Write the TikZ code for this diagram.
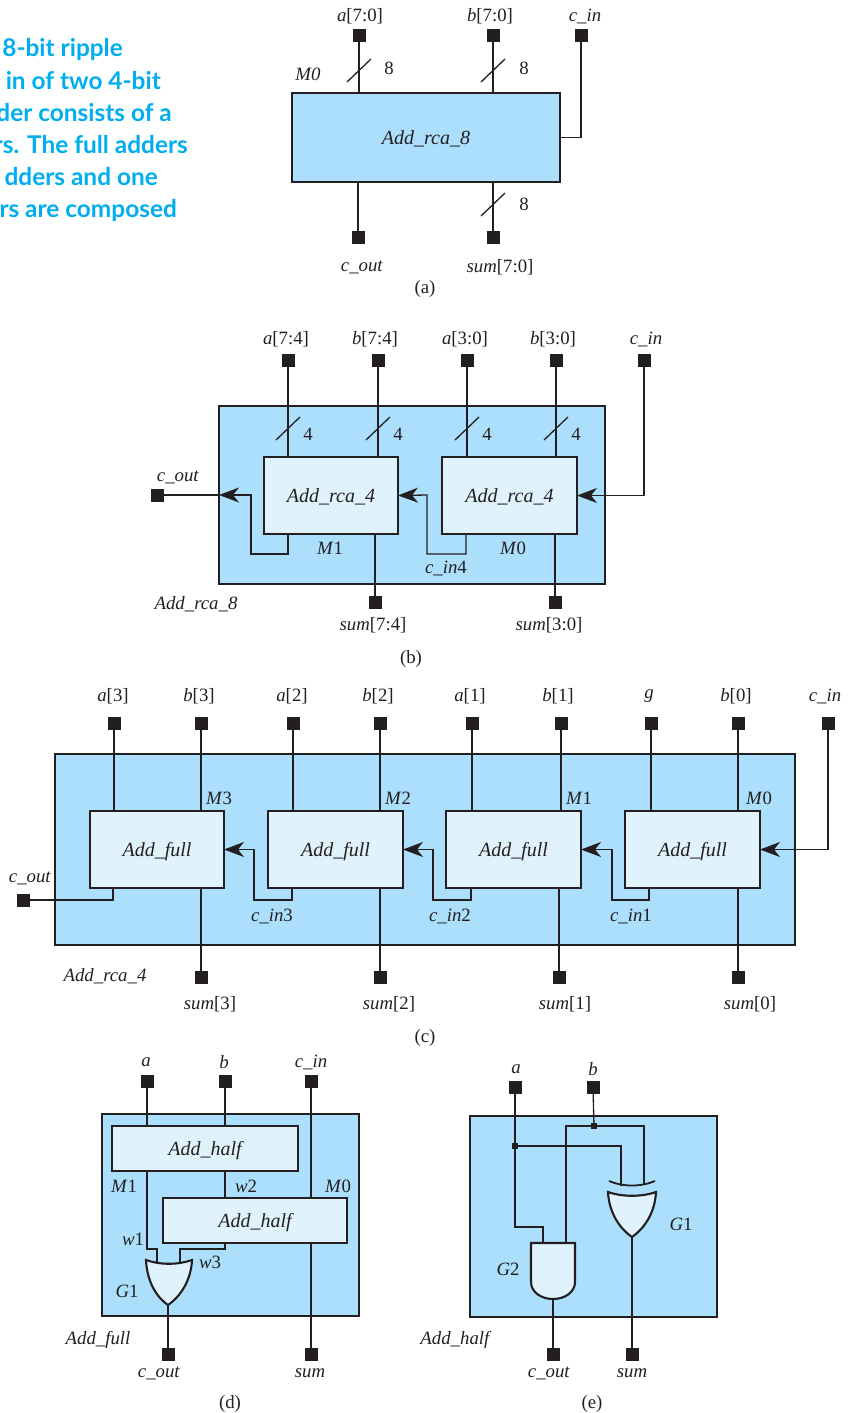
\documentclass[tikz,border=0pt]{standalone}
\usepackage{fontspec}
\setmainfont{Liberation Serif}
\newfontfamily\capfont{Lato}
\usetikzlibrary{arrows.meta,calc}
\definecolor{panelblue}{HTML}{ABDFFB}
\definecolor{blockblue}{HTML}{E0F3FC}
\definecolor{ink}{HTML}{231F20}
\definecolor{capblue}{HTML}{00AEEF}
\tikzset{
  wire/.style={draw=ink,line width=1.3pt},
  arrowwire/.style={wire,-{Stealth[length=20pt,width=15pt,inset=6pt]}},
  panel/.style={draw=ink,line width=2.1pt,fill=panelblue,inner sep=0pt,outer sep=0pt,font=\fontsize{20}{22}\selectfont\itshape,text=ink,text height=13pt,text depth=0pt},
  block/.style={panel,fill=blockblue},
  gate/.style={draw=ink,line width=2.1pt,fill=blockblue},
  pinsq/.style={fill=ink,minimum size=13pt,inner sep=0pt,outer sep=0pt},
  dotsq/.style={fill=ink,minimum size=6pt,inner sep=0pt,outer sep=0pt},
  lbl/.style={font=\fontsize{18.8}{22}\selectfont,text=ink,inner sep=0pt},
  caplbl/.style={font=\capfont\bfseries\fontsize{24.4}{28}\selectfont,text=capblue,inner sep=0pt,anchor=base east},
}
\newcommand{\blk}[7]{%
  \pgfmathsetmacro\blkw{#4-#2}\pgfmathsetmacro\blkh{#5-#3}%
  \node[#6,minimum width=\blkw pt,minimum height=\blkh pt] (#1) at ({(#2+#4)/2},{(#3+#5)/2}) {#7};}
\newcommand{\pinat}[3]{\node[pinsq] (#1) at (#2,#3) {};}
\newcommand{\lab}[4]{\node[lbl] (#1) at (#2,#3+1) {#4};}
\newcommand{\busmark}[2]{\draw[wire] (#1-12,#2+11.5) -- (#1+12,#2-11.5);}
\newcommand{\itx}[1]{\textit{#1}}
\begin{document}
\begin{tikzpicture}[x=1pt,y=-1pt]
\useasboundingbox (0,0) rectangle (848,1413);
% caption fragment
\begin{scope}
\clip (0,0) rectangle (848,1413);
\node[caplbl] (cap1) at (123,57) {8-bit ripple};
\node[caplbl] (cap2) at (161,89) {in of two 4-bit};
\node[caplbl] (cap3) at (172,121) {der consists of a};
\node[caplbl] (cap4) at (188,153) {rs. The full adders};
\node[caplbl] (cap5) at (158,185) {dders and one};
\node[caplbl] (cap6) at (177,217) {rs are composed};
\end{scope}

% ---------- (a)
\blk{Aa}{292}{93}{560}{182}{panel}{Add\_rca\_8}
\pinat{Aia}{359}{36}\pinat{Aib}{493}{36}\pinat{Aic}{581}{36}
\pinat{Aoc}{358}{237}\pinat{Aos}{493}{237}
\draw[wire] (Aia) -- (Aia |- Aa.north);
\draw[wire] (Aib) -- (Aib |- Aa.north);
\draw[wire] (Aic) -- (Aic |- Aa.east) -- (Aa.east);
\draw[wire] (Aoc) -- (Aoc |- Aa.south);
\draw[wire] (Aos) -- (Aos |- Aa.south);
\busmark{359}{70.5}\busmark{493}{70.5}\busmark{493}{204.5}
\lab{A1}{389}{67}{8}\lab{A2}{524}{67}{8}\lab{A3}{524}{203}{8}
\lab{A4}{308}{73}{\itx{M0}}
\lab{A5}{360}{15}{\itx{a}[7:0]}\lab{A6}{490}{15}{\itx{b}[7:0]}\lab{A7}{585}{15}{\itx{c\_in}}
\lab{A8}{362}{266}{\itx{c\_out}}\lab{A9}{500}{266}{\itx{sum}[7:0]}\lab{A10}{425}{288}{(a)}

% ---------- (b)
\blk{Bo}{219}{406}{605}{584}{panel}{}
\pinat{Bi1}{288}{360}\pinat{Bi2}{378}{360}\pinat{Bi3}{467}{360}\pinat{Bi4}{556}{360}\pinat{Bi5}{644}{360}
\pinat{Bs1}{375}{602}\pinat{Bs0}{555}{602}\pinat{Bco}{157}{495}
\blk{Bm1}{264}{457}{398}{534}{block}{Add\_rca\_4}
\blk{Bm0}{442}{457}{577}{534}{block}{Add\_rca\_4}
\draw[wire] (Bi1) -- (Bi1 |- Bm1.north);
\draw[wire] (Bi2) -- (Bi2 |- Bm1.north);
\draw[wire] (Bi3) -- (Bi3 |- Bm0.north);
\draw[wire] (Bi4) -- (Bi4 |- Bm0.north);
\draw[wire] (Bs1) -- (Bs1 |- Bm1.south);
\draw[wire] (Bs0) -- (Bs0 |- Bm0.south);
\draw[arrowwire] (Bi5) -- (Bi5 |- Bm0.east) -- (Bm0.east);
\draw[wire] (Bco) -- (Bo.west |- Bco);
\draw[arrowwire] (Bi1 |- Bm1.south) -- (288,554) -- (251,554) -- (251,495) -- (Bo.west |- Bco);
\draw[arrowwire] (466,534) -- (466,554) -- (427,554) -- (427,495) -- (Bm1.east);
\busmark{288}{428.5}\busmark{378}{428.5}\busmark{467}{428.5}\busmark{556}{428.5}
\lab{B1}{308}{433}{4}\lab{B2}{398}{433}{4}\lab{B3}{487}{433}{4}\lab{B4}{576}{433}{4}
\lab{B5}{286}{338}{\itx{a}[7:4]}\lab{B6}{375}{338}{\itx{b}[7:4]}\lab{B7}{465}{338}{\itx{a}[3:0]}\lab{B8}{553}{338}{\itx{b}[3:0]}\lab{B9}{646}{338}{\itx{c\_in}}
\lab{B10}{178}{476}{\itx{c\_out}}\lab{B11}{330}{547}{\itx{M}1}\lab{B12}{513}{547}{\itx{M}0}\lab{B13}{446}{567}{\itx{c\_in}4}
\lab{B14}{196}{603}{\itx{Add\_rca\_8}}\lab{B15}{373}{624}{\itx{sum}[7:4]}\lab{B16}{549}{624}{\itx{sum}[3:0]}\lab{B17}{411}{658}{(b)}

% ---------- (c)
\blk{Co}{55}{754}{795}{945}{panel}{}
\pinat{Ci1}{114}{723}\pinat{Ci2}{201}{723}\pinat{Ci3}{293}{723}\pinat{Ci4}{380}{723}\pinat{Ci5}{472}{723}\pinat{Ci6}{561}{723}\pinat{Ci7}{651}{723}\pinat{Ci8}{738}{723}\pinat{Ci9}{828}{723}
\pinat{Cs3}{201}{977}\pinat{Cs2}{380}{977}\pinat{Cs1}{559}{977}\pinat{Cs0}{738}{977}\pinat{Cco}{23}{900}
\blk{Cm3}{90}{811}{224}{888}{block}{Add\_full}
\blk{Cm2}{268}{811}{403}{888}{block}{Add\_full}
\blk{Cm1}{446}{811}{581}{888}{block}{Add\_full}
\blk{Cm0}{625}{811}{760}{888}{block}{Add\_full}
\draw[wire] (Ci1) -- (Ci1 |- Cm3.north);
\draw[wire] (Ci2) -- (Ci2 |- Cm3.north);
\draw[wire] (Ci3) -- (Ci3 |- Cm2.north);
\draw[wire] (Ci4) -- (Ci4 |- Cm2.north);
\draw[wire] (Ci5) -- (Ci5 |- Cm1.north);
\draw[wire] (Ci6) -- (Ci6 |- Cm1.north);
\draw[wire] (Ci7) -- (Ci7 |- Cm0.north);
\draw[wire] (Ci8) -- (Ci8 |- Cm0.north);
\draw[wire] (Cs3) -- (Cs3 |- Cm3.south);
\draw[wire] (Cs2) -- (Cs2 |- Cm2.south);
\draw[wire] (Cs1) -- (Cs1 |- Cm1.south);
\draw[wire] (Cs0) -- (Cs0 |- Cm0.south);
\draw[arrowwire] (Ci9) -- (Ci9 |- Cm0.east) -- (Cm0.east);
\draw[wire] (Cco) -- (113,900) -- (113,888);
\draw[arrowwire] (292,888) -- (292,900) -- (254,900) -- (254,849.5) -- (Cm3.east);
\draw[arrowwire] (471,888) -- (471,900) -- (433,900) -- (433,849.5) -- (Cm2.east);
\draw[arrowwire] (649,888) -- (649,900) -- (612,900) -- (612,849.5) -- (Cm1.east);
\lab{C1}{113}{695.5}{\itx{a}[3]}\lab{C2}{199}{695.5}{\itx{b}[3]}\lab{C3}{292}{695.5}{\itx{a}[2]}\lab{C4}{378}{695.5}{\itx{b}[2]}\lab{C5}{470}{695.5}{\itx{a}[1]}\lab{C6}{558}{695.5}{\itx{b}[1]}\lab{C7}{649}{695.5}{\itx{g}}\lab{C8}{736}{695.5}{\itx{b}[0]}\lab{C9}{825}{695.5}{\itx{c\_in}}
\lab{C10}{219}{797}{\itx{M}3}\lab{C11}{398}{797}{\itx{M}2}\lab{C12}{579}{797}{\itx{M}1}\lab{C13}{759}{797}{\itx{M}0}
\lab{C14}{272}{915}{\itx{c\_in}3}\lab{C15}{450}{915}{\itx{c\_in}2}\lab{C16}{631}{915}{\itx{c\_in}1}\lab{C17}{30}{877}{\itx{c\_out}}
\lab{C18}{105}{975}{\itx{Add\_rca\_4}}
\lab{C19}{210}{1003}{\itx{sum}[3]}\lab{C20}{389}{1003}{\itx{sum}[2]}\lab{C21}{565}{1003}{\itx{sum}[1]}\lab{C22}{750}{1003}{\itx{sum}[0]}\lab{C23}{425}{1037}{(c)}

% ---------- (d)
\blk{Do}{102}{1114}{359}{1316}{panel}{}
\pinat{Dia}{147}{1081}\pinat{Dib}{225}{1081}\pinat{Dic}{311}{1081}
\pinat{Doc}{168}{1354}\pinat{Dos}{311}{1354}
\blk{Dm1}{112}{1126}{298}{1171}{block}{Add\_half}
\blk{Dm0}{163}{1198}{347}{1243}{block}{Add\_half}
\coordinate (DgA) at (157,1262);
\coordinate (DgB) at (180,1262);
\coordinate (DgO) at (168,1305);
\draw[wire] (Dia) -- (Dia |- Dm1.north);
\draw[wire] (Dib) -- (Dib |- Dm1.north);
\draw[wire] (Dic) -- (Dic |- Dm0.north);
\draw[wire] (Dib |- Dm1.south) -- (Dib |- Dm0.north);
\draw[wire] (Dia |- Dm1.south) -- (147,1249) -- (157,1249) -- (DgA);
\draw[wire] (Dib |- Dm0.south) -- (225,1249) -- (180,1249) -- (DgB);
\draw[wire] (DgO) -- (Doc);
\draw[wire] (Dos) -- (Dos |- Dm0.south);
\draw[gate] (146,1260) .. controls (160,1265) and (178,1265) .. (192,1260) .. controls (191,1280) and (181,1296) .. (DgO) .. controls (155,1296) and (147,1280) .. cycle;
\lab{D1}{146}{1061}{\itx{a}}\lab{D2}{224}{1061}{\itx{b}}\lab{D3}{311}{1061}{\itx{c\_in}}
\lab{D4}{124}{1185}{\itx{M}1}\lab{D5}{246}{1185}{\itx{w}2}\lab{D6}{338}{1185}{\itx{M}0}
\lab{D7}{133}{1238}{\itx{w}1}\lab{D8}{210}{1261}{\itx{w}3}\lab{D9}{127}{1290}{\itx{G}1}
\lab{D10}{98}{1339}{\itx{Add\_full}}\lab{D11}{159}{1372}{\itx{c\_out}}\lab{D12}{310}{1372}{\itx{sum}}\lab{D13}{230}{1403}{(d)}

% ---------- (e)
\blk{Eo}{470}{1116}{717}{1317}{panel}{}
\pinat{Eia}{515}{1087}\pinat{Eib}{593}{1087}
\pinat{Eoc}{553}{1354}\pinat{Eos}{632}{1354}
\node[dotsq] (Eja) at (515,1146) {};
\node[dotsq] (Ejb) at (594,1126) {};
\coordinate (EaA) at (543,1243);
\coordinate (EaB) at (566,1243);
\coordinate (EaO) at (553,1299);
\coordinate (ExA) at (621,1186);
\coordinate (ExB) at (644,1185);
\coordinate (ExO) at (632,1237);
\draw[wire] (Eia) -- (Eja) -- (515,1227) -- (543,1227) -- (EaA);
\draw[wire] (Eib) -- (Ejb);
\draw[wire] (Eja) -- (ExA |- Eja) -- (ExA);
\draw[wire] (EaB) -- (EaB |- Ejb) -- (Ejb) -- (ExB |- Ejb) -- (ExB);
\draw[wire] (EaO) -- (Eoc);
\draw[wire] (ExO) -- (Eos);
\draw[gate] (531,1243) -- (575,1243) -- (575,1282) .. controls (575,1292) and (565,1299) .. (EaO) .. controls (541,1299) and (531,1292) .. (531,1282) -- cycle;
\draw[gate] (608,1192) .. controls (622,1197) and (642,1197) .. (656,1192) .. controls (655,1212) and (645,1228) .. (ExO) .. controls (619,1228) and (609,1212) .. cycle;
\draw[draw=ink,line width=1.8pt] (609,1181) .. controls (623,1187) and (641,1187) .. (655,1181);
\lab{E1}{516}{1068}{\itx{a}}\lab{E2}{593}{1068}{\itx{b}}
\lab{E3}{681}{1223}{\itx{G}1}\lab{E4}{508}{1268}{\itx{G}2}
\lab{E5}{456}{1339}{\itx{Add\_half}}\lab{E6}{549}{1372}{\itx{c\_out}}\lab{E7}{632}{1372}{\itx{sum}}\lab{E8}{592}{1403}{(e)}
\end{tikzpicture}
\end{document}
